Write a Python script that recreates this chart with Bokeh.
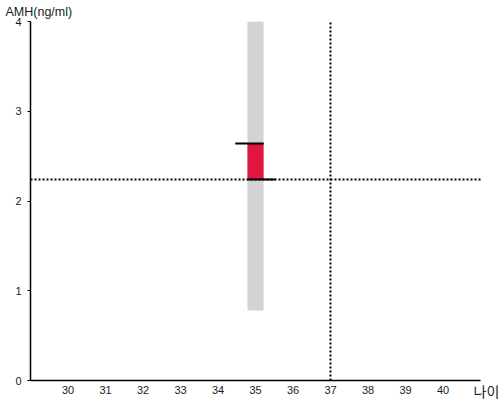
from bokeh.plotting import figure
from bokeh.models import FixedTicker, Label, Range1d
from bokeh.embed import file_html
from bokeh.resources import INLINE

# data
age = [35]
amh_value = [2.64]
amh_reference = [2.24]
band_low = [0.78]
band_high = [4.0]
age_cutoff = [37]
x_ticks = [30, 31, 32, 33, 34, 35, 36, 37, 38, 39, 40]
y_ticks = [0, 1, 2, 3, 4]
x_min, x_max = 29, 41
y_min, y_max = 0, 4

FONT = "Liberation Sans"

# frame spans to the canvas bottom/right so the axis texts sit inside it
x_pad = 20 / 37.5
y_pad = 20 / 90
p = figure(width=500, height=400, output_backend="svg", toolbar_location=None,
           x_range=Range1d(x_min, x_max + x_pad), y_range=Range1d(y_min - y_pad, y_max),
           min_border_left=30, min_border_right=0, min_border_top=20, min_border_bottom=0)
p.outline_line_color = None
p.grid.visible = False
p.background_fill_color = "white"

p.title.text = "AMH(ng/ml)"
p.title.align = "left"
p.title.offset = -25
p.title.standoff = 5
p.title.text_font = FONT
p.title.text_font_size = "12.5px"
p.title.text_font_style = "normal"
p.title.text_color = "#1a1a1a"

# gray band
p.vbar(x=age, width=0.43, bottom=band_low, top=band_high, fill_color="#d3d3d3", line_color=None)
# red bar
p.vbar(x=age, width=0.43, bottom=amh_reference, top=amh_value, fill_color="#e0163f", line_color=None)
# dotted lines
p.segment(x0=[x_min], x1=[x_max], y0=amh_reference, y1=amh_reference,
          line_color="black", line_width=2, line_dash="2 2")
p.segment(x0=age_cutoff, x1=age_cutoff, y0=[y_min], y1=[y_max],
          line_color="black", line_width=2, line_dash="2 2")
# black marks
p.segment(x0=[a - 0.54 for a in age], x1=[a + 0.22 for a in age], y0=amh_value, y1=amh_value,
          line_color="black", line_width=2)
p.segment(x0=[a - 0.22 for a in age], x1=[a + 0.54 for a in age], y0=amh_reference, y1=amh_reference,
          line_color="black", line_width=2)

for ax in (p.xaxis[0], p.yaxis[0]):
    ax.axis_line_color = "black"
    ax.axis_line_width = 1.5
    ax.major_label_text_font = FONT
    ax.major_label_text_font_size = "11px"
    ax.major_label_text_color = "#1a1a1a"
    ax.minor_tick_line_color = None

p.xaxis.fixed_location = y_min
p.xaxis.bounds = (x_min, x_max)
p.xaxis.ticker = FixedTicker(ticks=x_ticks)
p.xaxis.major_tick_line_color = None
p.xaxis.major_tick_out = 0
p.xaxis.major_tick_in = 0
p.xaxis.major_label_standoff = 5
p.yaxis.bounds = (y_min, y_max)
p.yaxis.ticker = FixedTicker(ticks=y_ticks)
p.yaxis.major_tick_out = 3
p.yaxis.major_tick_in = 0
p.yaxis.major_tick_line_color = "black"
p.yaxis.major_label_standoff = 6

p.add_layout(Label(x=x_max, y=y_min, x_offset=-7, y_offset=-10, text="나이",
                   text_font="Noto Sans CJK KR", text_font_size="14px", text_color="#1a1a1a",
                   text_baseline="alphabetic"))

open("out.html", "w").write(file_html(p, INLINE))
